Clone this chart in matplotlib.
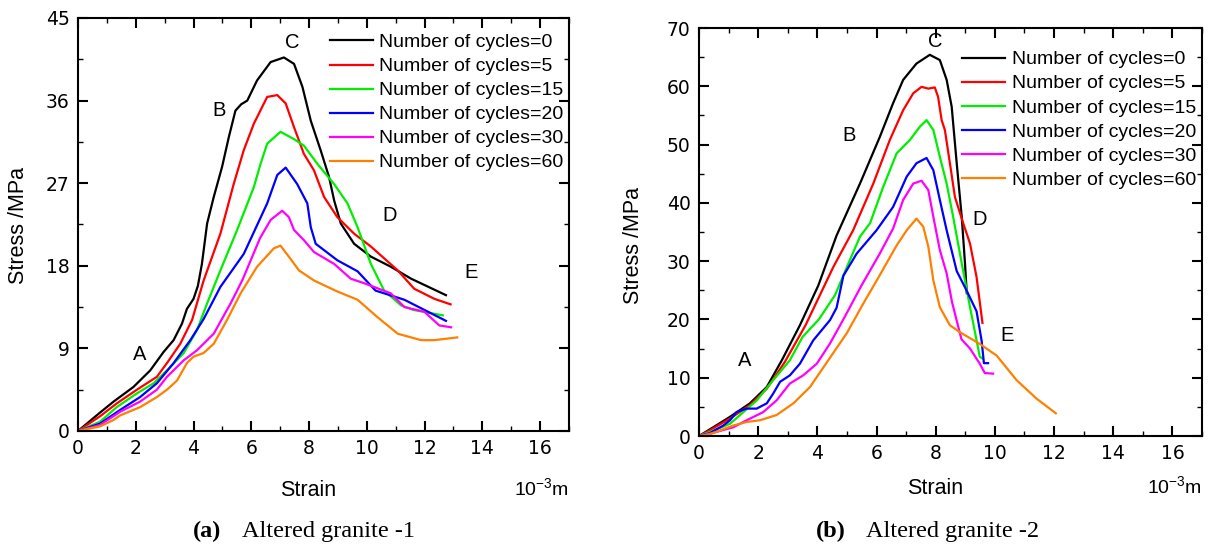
import matplotlib
matplotlib.use("Agg")
import matplotlib.pyplot as plt
from matplotlib.ticker import MultipleLocator

# ---------------- data: panel (a) Altered granite -1 ----------------
a_x0 = [0, 0.76, 1.23, 1.92, 2.5, 2.96, 3.31, 3.6, 3.77, 4.0, 4.15, 4.29, 4.47, 4.7, 4.99, 5.22, 5.45, 5.65, 5.86, 6.2, 6.67, 7.13, 7.48, 7.77, 8.06, 8.4, 8.69, 8.87, 9.1, 9.56, 10.14, 10.83, 11.53, 12.74]
a_y0 = [0, 2.0, 3.2, 4.8, 6.6, 8.6, 9.9, 11.7, 13.3, 14.4, 15.8, 18.2, 22.6, 25.5, 28.8, 32.0, 34.9, 35.6, 36.0, 38.2, 40.2, 40.7, 40.0, 37.5, 33.8, 30.6, 27.7, 25.1, 22.6, 20.4, 19.0, 17.9, 16.6, 14.8]
a_x5 = [0, 0.76, 1.34, 2.04, 2.73, 3.08, 3.54, 3.95, 4.35, 4.93, 5.39, 5.74, 6.09, 6.55, 6.9, 7.19, 7.48, 7.82, 8.17, 8.52, 8.98, 9.56, 10.14, 11.07, 11.64, 12.34, 12.9]
a_y5 = [0, 1.6, 3.0, 4.5, 5.9, 7.4, 9.5, 12.1, 16.4, 21.5, 26.9, 30.6, 33.5, 36.4, 36.6, 35.7, 33.1, 30.2, 28.4, 25.5, 23.3, 21.5, 20.1, 17.5, 15.5, 14.4, 13.8]
a_x15 = [0, 0.76, 1.34, 2.04, 2.62, 3.08, 3.66, 4.12, 4.47, 4.93, 5.51, 6.09, 6.32, 6.55, 7.01, 7.48, 7.82, 8.29, 8.87, 9.33, 9.68, 10.14, 10.6, 11.18, 11.6, 12.63]
a_y15 = [0, 1.0, 2.6, 4.1, 5.2, 6.6, 8.5, 11.0, 13.9, 17.5, 21.9, 26.6, 29.1, 31.3, 32.6, 31.8, 31.1, 29.1, 26.9, 24.8, 22.2, 18.2, 15.3, 13.7, 13.2, 12.6]
a_x20 = [0, 0.76, 1.46, 2.15, 2.73, 3.31, 3.89, 4.35, 4.93, 5.74, 6.55, 6.9, 7.19, 7.59, 7.94, 8.06, 8.23, 8.98, 9.68, 10.3, 11.3, 12.74]
a_y20 = [0, 0.8, 2.3, 3.7, 5.2, 7.4, 9.9, 12.2, 15.7, 19.3, 24.8, 27.9, 28.7, 26.9, 24.8, 22.2, 20.4, 18.6, 17.4, 15.3, 14.3, 12.0]
a_x30 = [0, 0.76, 1.46, 2.15, 2.73, 3.08, 3.66, 4.12, 4.7, 5.3, 5.7, 6.3, 6.67, 7.07, 7.3, 7.48, 7.82, 8.17, 8.87, 9.44, 9.91, 10.83, 11.3, 11.99, 12.51, 12.92]
a_y30 = [0, 0.65, 2.1, 3.2, 4.5, 5.9, 7.7, 8.8, 10.6, 14.0, 16.5, 21.0, 23.0, 24.0, 23.3, 21.9, 20.8, 19.5, 18.2, 16.6, 16.1, 15.0, 13.5, 13.0, 11.5, 11.3]
a_x60 = [0, 0.76, 1.23, 1.46, 2.15, 2.73, 3.08, 3.43, 3.77, 4.0, 4.35, 4.7, 5.16, 5.63, 6.2, 6.78, 7.01, 7.3, 7.65, 8.17, 8.98, 9.68, 10.37, 11.07, 11.88, 12.34, 13.13]
a_y60 = [0, 0.5, 1.2, 1.7, 2.6, 3.7, 4.5, 5.5, 7.4, 8.1, 8.5, 9.5, 12.1, 15.0, 17.9, 19.9, 20.2, 19.0, 17.5, 16.4, 15.2, 14.3, 12.4, 10.6, 9.9, 9.9, 10.2]

# ---------------- data: panel (b) Altered granite -2 ----------------
b_x0 = [0, 0.37, 1.05, 1.72, 2.29, 2.8, 3.41, 4.03, 4.65, 5.44, 6.11, 6.56, 6.9, 7.35, 7.8, 8.14, 8.37, 8.54, 8.71, 8.88, 8.99, 9.05]
b_y0 = [0, 1.15, 3.3, 5.6, 8.4, 13.0, 19.0, 25.8, 34.4, 43.3, 51.3, 57.1, 61.1, 63.9, 65.4, 64.5, 61.1, 56.5, 46.8, 37.6, 29.6, 24.5]
b_x5 = [0, 0.37, 1.05, 1.72, 2.29, 2.9, 3.6, 4.54, 5.21, 5.89, 6.45, 6.9, 7.24, 7.52, 7.75, 7.97, 8.08, 8.2, 8.31, 8.48, 8.65, 8.93, 9.16, 9.38, 9.58]
b_y5 = [0, 1.0, 3.0, 5.3, 8.1, 12.7, 19.0, 29.0, 35.3, 43.3, 50.8, 55.9, 58.8, 59.9, 59.6, 59.8, 58.2, 54.2, 52.5, 46.8, 41.0, 36.5, 33.0, 27.3, 19.4]
b_x15 = [0, 0.37, 1.05, 1.5, 1.95, 2.51, 3.07, 3.5, 4.05, 4.6, 5.1, 5.44, 5.78, 6.23, 6.68, 7.13, 7.47, 7.69, 7.92, 8.14, 8.37, 8.59, 8.88, 9.16, 9.49, 9.58]
b_y15 = [0, 0.7, 2.1, 4.1, 6.1, 9.6, 13.0, 17.0, 20.0, 24.2, 30.2, 34.2, 36.5, 42.8, 48.5, 50.8, 53.1, 54.2, 52.5, 47.9, 43.3, 37.6, 29.6, 22.1, 13.6, 13.3]
b_x20 = [0, 0.37, 0.82, 1.05, 1.27, 1.61, 1.95, 2.29, 2.51, 2.74, 3.07, 3.41, 3.86, 4.43, 4.65, 4.88, 5.33, 6.0, 6.56, 7.02, 7.35, 7.69, 7.92, 8.14, 8.37, 8.71, 9.04, 9.38, 9.55, 9.63, 9.77]
b_y20 = [0, 0.5, 1.8, 2.7, 4.1, 4.7, 4.7, 5.6, 7.3, 9.3, 10.4, 12.4, 16.4, 19.9, 22.0, 27.5, 31.3, 35.3, 39.3, 44.5, 46.8, 47.7, 45.6, 40.5, 35.3, 28.3, 25.0, 21.4, 16.4, 12.5, 12.5]
b_x30 = [0, 0.37, 1.16, 1.61, 2.17, 2.62, 3.07, 3.52, 3.98, 4.43, 4.9, 5.5, 6.11, 6.56, 6.9, 7.24, 7.52, 7.75, 7.92, 8.14, 8.37, 8.55, 8.87, 9.16, 9.49, 9.66, 9.94]
b_y30 = [0, 0.4, 1.5, 2.7, 4.1, 6.1, 9.0, 10.4, 12.4, 15.9, 20.2, 25.9, 31.3, 35.6, 40.5, 43.3, 43.8, 42.2, 37.6, 31.9, 27.9, 23.0, 16.6, 15.0, 12.4, 10.8, 10.7]
b_x60 = [0, 0.37, 1.16, 1.61, 2.06, 2.62, 3.19, 3.75, 4.37, 4.99, 5.55, 6.11, 6.68, 7.02, 7.35, 7.58, 7.75, 7.92, 8.14, 8.48, 8.82, 9.49, 10.06, 10.73, 11.41, 12.06]
b_y60 = [0, 0.3, 1.8, 2.4, 2.7, 3.6, 5.6, 8.4, 13.0, 17.6, 22.7, 27.6, 32.7, 35.3, 37.3, 35.9, 32.5, 26.7, 22.1, 19.0, 17.8, 15.8, 13.8, 9.6, 6.4, 3.9]

labels = ["Number of cycles=0", "Number of cycles=5", "Number of cycles=15",
          "Number of cycles=20", "Number of cycles=30", "Number of cycles=60"]
colors = ["#000000", "#ff0000", "#00ee00", "#0000ff", "#ff00ff", "#ff8000"]

a_series = [(a_x0, a_y0), (a_x5, a_y5), (a_x15, a_y15), (a_x20, a_y20), (a_x30, a_y30), (a_x60, a_y60)]
b_series = [(b_x0, b_y0), (b_x5, b_y5), (b_x15, b_y15), (b_x20, b_y20), (b_x30, b_y30), (b_x60, b_y60)]

a_points = {"A": (2.15, 8.3), "B": (4.9, 34.9), "C": (7.43, 42.3), "D": (10.8, 23.5), "E": (13.6, 17.3)}
b_points = {"A": (1.55, 13.0), "B": (5.07, 51.5), "C": (8.0, 67.6), "D": (9.5, 37.2), "E": (10.4, 17.2)}

sans = ["Liberation Sans", "DejaVu Sans"]
serif = ["Liberation Serif", "DejaVu Serif"]
plt.rcParams["font.family"] = sans

W, H = 1214, 548
fig = plt.figure(figsize=(W / 100, H / 100), dpi=100)


def px_rect(l, t, r, b):
    return [l / W, 1 - b / H, (r - l) / W, (b - t) / H]


ax1 = fig.add_axes(px_rect(78, 18, 569, 431))
ax2 = fig.add_axes(px_rect(699, 28, 1202, 436))


def style(ax, ymax, ystep, leg_anchor, points):
    ax.set_xlim(0, 17)
    ax.set_ylim(0, ymax)
    ax.xaxis.set_major_locator(MultipleLocator(2))
    ax.xaxis.set_minor_locator(MultipleLocator(1))
    ax.yaxis.set_major_locator(MultipleLocator(ystep))
    ax.yaxis.set_minor_locator(MultipleLocator(ystep / 2))
    ax.tick_params(which="major", direction="in", length=7, width=1.5,
                   labelsize=13.5, pad=6, top=True, right=True)
    ax.tick_params(which="minor", direction="in", length=3.5, width=1.0,
                   top=True, right=True)
    for lab in ax.get_xticklabels() + ax.get_yticklabels():
        lab.set_fontfamily(["DejaVu Sans"])
    for sp in ax.spines.values():
        sp.set_linewidth(1.5)
    for k, (x, y) in points.items():
        ax.text(x, y, k, fontsize=14.5, ha="center", va="center")
    ax.legend(loc="upper left", bbox_to_anchor=leg_anchor, frameon=False,
              fontsize=14, handlelength=2.2, handletextpad=0.35,
              labelspacing=0.33, borderpad=0, borderaxespad=0)


for ax, series in ((ax1, a_series), (ax2, b_series)):
    for (x, y), c, lab in zip(series, colors, labels):
        ax.plot(x, y, color=c, lw=1.6, label=lab)

style(ax1, 45, 9, (0.513, 0.962), a_points)
style(ax2, 70, 10, (0.523, 0.944), b_points)

# axis titles
fig.text(19 / W, 1 - 225 / H, "Stress /MPa", rotation=90, ha="center", va="center", fontsize=15.5)
fig.text(634 / W, 1 - 246 / H, "Stress /MPa", rotation=90, ha="center", va="center", fontsize=15.5)
fig.text(308 / W, 1 - 491 / H, "Strain", ha="center", va="center", fontsize=15.5)
fig.text(935 / W, 1 - 488 / H, "Strain", ha="center", va="center", fontsize=15.5)
fig.text(541 / W, 1 - 489 / H, r"10$^{\mathregular{-3}}$m", ha="center", va="center", fontsize=14)
fig.text(1174 / W, 1 - 487 / H, r"10$^{\mathregular{-3}}$m", ha="center", va="center", fontsize=14)

# captions
fig.text(193 / W, 1 - 531 / H, "(a)", ha="left", va="center", fontsize=17.5,
         family=serif, fontweight="bold")
fig.text(242 / W, 1 - 531 / H, "Altered granite -1", ha="left", va="center",
         fontsize=17.5, family=serif)
fig.text(816 / W, 1 - 531 / H, "(b)", ha="left", va="center", fontsize=17.5,
         family=serif, fontweight="bold")
fig.text(866 / W, 1 - 531 / H, "Altered granite -2", ha="left", va="center",
         fontsize=17.5, family=serif)

fig.savefig("out.png", dpi=100)
